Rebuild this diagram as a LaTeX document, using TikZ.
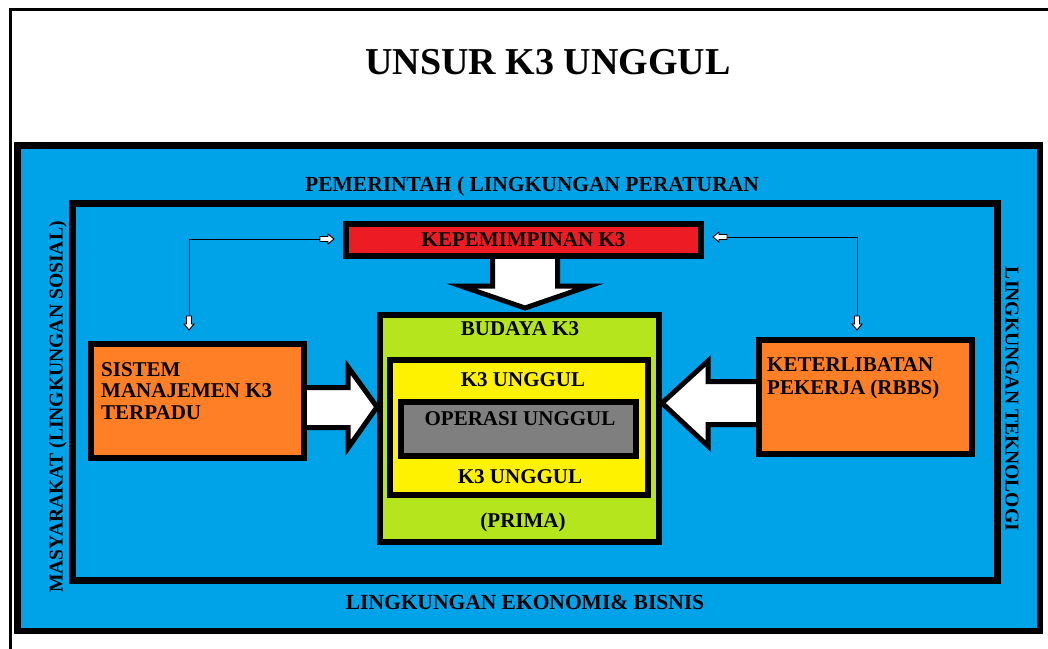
\documentclass[tikz,border=0pt]{standalone}
\usepackage{fontspec}
\setmainfont{Liberation Serif}
\usetikzlibrary{calc}

\definecolor{skyblue}{HTML}{00A2E8}
\definecolor{leadred}{HTML}{ED1C24}
\definecolor{paintorange}{HTML}{FF7F27}
\definecolor{limegreen}{HTML}{B5E61D}
\definecolor{paintyellow}{HTML}{FFF200}
\definecolor{midgray}{HTML}{7F7F7F}

\tikzset{
  x=1pt, y=-1pt,
  panel/.style={draw=black, line width=6pt, inner sep=0pt, minimum width=#1},
  lbl/.style={font=\fontsize{21}{21.5}\selectfont\bfseries, inner sep=0pt, text=black},
  sidelbl/.style={lbl, font=\fontsize{19.6}{20}\selectfont\bfseries},
  widelbl/.style={lbl, font=\fontsize{21.5}{22}\selectfont\bfseries},
  bigarrow/.style={draw=black, fill=white, line width=5pt, line join=miter},
  thinlink/.style={draw=black, line width=1pt},
  tinyarr/.pic={
    \filldraw[fill=white, draw=black, line width=0.9pt]
      (0,0) -- (-6,-5) -- (-6,-2.5) -- (-14,-2.5) -- (-14,2.5) -- (-6,2.5) -- (-6,5) -- cycle;
  }
}

\begin{document}
\begin{tikzpicture}
\useasboundingbox (0,0) rectangle (1048,648);
\clip (0,0) rectangle (1048,648);

% page frame
\draw[line width=3pt] (10,660) -- (10,9) -- (1060,9);

% title
\node[font=\fontsize{38}{40}\selectfont\bfseries, inner sep=0pt] (title) at (548,62) {UNSUR K3 UNGGUL};

% outer environment panel
\node[panel=1022.5pt, minimum height=485.5pt, fill=skyblue, line width=6.5pt] (env) at (528.75,388.25) {};
% inner organisation frame
\node[draw=black, line width=7pt, inner sep=0pt, minimum width=925.5pt, minimum height=377.5pt] (org) at (534.75,391.75) {};

% surrounding labels
\node[widelbl] (gov) at (532,186) {PEMERINTAH ( LINGKUNGAN PERATURAN};
\node[widelbl] (eco) at (525,602) {LINGKUNGAN EKONOMI\& BISNIS};
\node[sidelbl, rotate=90] (soc) at (58,407) {MASYARAKAT (LINGKUNGAN SOSIAL)};
\node[sidelbl, rotate=-90] (tech) at (1012,399) {LINGKUNGAN TEKNOLOGI};

% leadership bar
\node[panel=355pt, minimum height=32pt, fill=leadred] (lead) at (523.5,240) {};

% side boxes
\node[panel=213pt, minimum height=114pt, fill=paintorange] (sm) at (197.5,401) {};
\node[panel=213pt, minimum height=114pt, fill=paintorange] (rb) at (865.5,397) {};

% block arrows into the culture box
\draw[bigarrow] ($(lead.south)+(-31,-4)$) -- ++(0,31) -- ++(-31.5,0) -- ++(64,22) -- ++(64,-22) -- ++(-31.5,0) -- ++(0,-31) -- cycle;
\draw[bigarrow] ($(sm.east)+(-4,-13.5)$) -- ++(45,0) -- ++(0,-20.5) -- ++(29,40) -- ++(-29,41) -- ++(0,-20.5) -- ++(-45,0) -- cycle;
\draw[bigarrow] ($(rb.west)+(5,-15.5)$) -- ++(-53,0) -- ++(0,-20.5) -- ++(-46,42) -- ++(46,43) -- ++(0,-21.5) -- ++(53,0) -- cycle;

% redraw box borders over the arrow roots
\node[panel=355pt, minimum height=32pt, fill=leadred] (lead) at (523.5,240) {};
\node[panel=213pt, minimum height=114pt, fill=paintorange] (sm) at (197.5,401) {};
\node[panel=213pt, minimum height=114pt, fill=paintorange] (rb) at (865.5,397) {};

% nested culture boxes
\node[panel=279pt, minimum height=227pt, fill=limegreen] (culture) at (519.5,428.5) {};
\node[panel=258pt, minimum height=135pt, fill=paintyellow] (excel) at (519,427.5) {};
\node[panel=235pt, minimum height=54pt, fill=midgray] (ops) at (518.5,429) {};

% box texts
\node[lbl] (leadtxt) at (lead.center) {KEPEMIMPINAN K3};
\node[lbl] (cultxt) at (520,329) {BUDAYA K3};
\node[lbl] (prima) at (523,522) {(PRIMA)};
\node[lbl] (exctop) at (523,380) {K3 UNGGUL};
\node[lbl] (excbot) at (520,477) {K3 UNGGUL};
\node[lbl] (opstxt) at (520,419) {OPERASI UNGGUL};
\node[lbl, align=left, anchor=north west] (smtxt) at (101,362) {SISTEM\\MANAJEMEN K3\\TERPADU};
\node[lbl, align=left, anchor=north west, font=\fontsize{21}{23}\selectfont\bfseries] (rbtxt) at (767,357) {KETERLIBATAN\\PEKERJA (RBBS)};

% feedback links between leadership and the side boxes
\coordinate (lL) at ($(lead.west)+(-9,-1)$);
\coordinate (lD) at ($(sm.north)+(-8.5,-11)$);
\coordinate (rL) at ($(lead.east)+(9,-3)$);
\coordinate (rD) at ($(rb.north)+(-8.5,-7)$);
\draw[thinlink] (lL) -| (lD);
\draw[thinlink] (rL) -| (rD);
\pic at (lL) {tinyarr};
\pic[rotate=-90] at (lD) {tinyarr};
\pic[rotate=180] at (rL) {tinyarr};
\pic[rotate=-90] at (rD) {tinyarr};
\end{tikzpicture}
\end{document}
